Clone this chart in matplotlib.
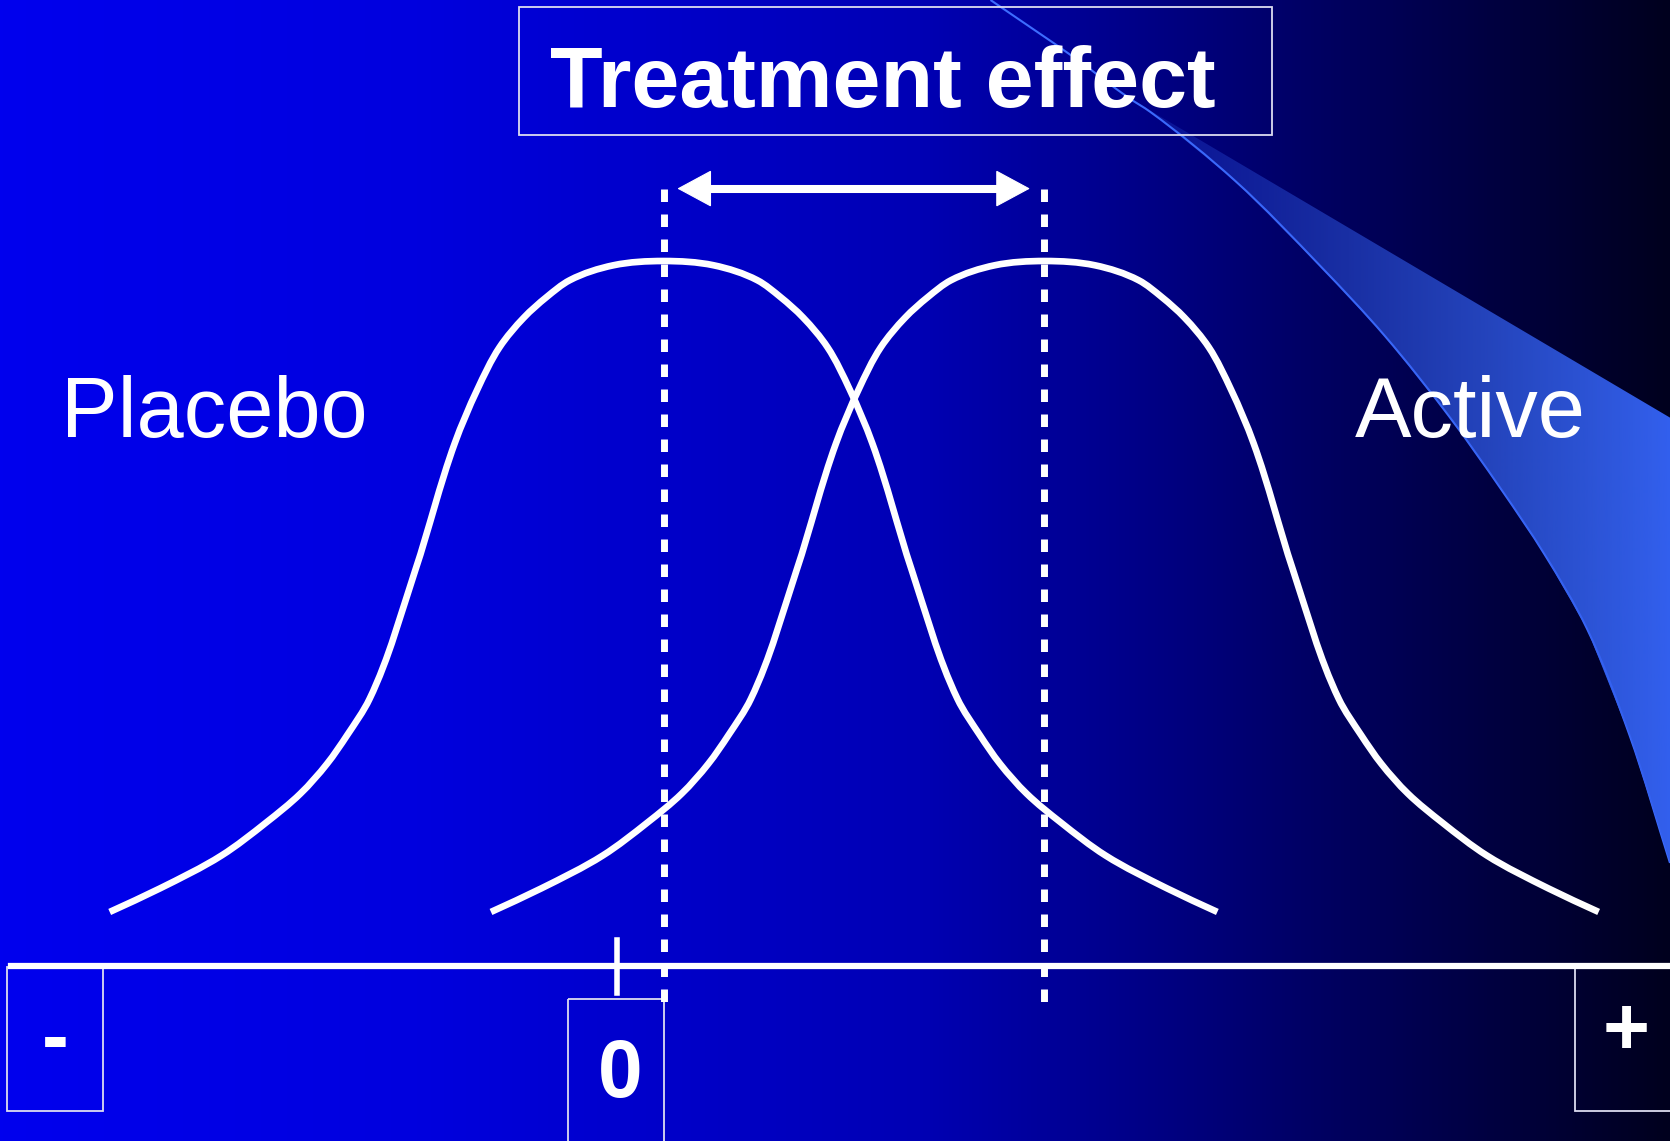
import numpy as np
import matplotlib
matplotlib.use("Agg")
import matplotlib.pyplot as plt
from matplotlib.patches import Rectangle, Polygon, PathPatch
from matplotlib.path import Path

# ─── DATA (slide coordinates, x to the right, y downwards) ────
placebo_x = [103, 150, 208, 250, 282, 307, 326, 347, 390, 427, 448, 469, 492, 513,
             535, 576, 623, 670, 711, 733, 754, 777, 798, 819, 856, 899, 920, 939,
             964, 996, 1038, 1096, 1143]
curve_y = [856, 834, 803, 772, 745, 717, 690, 656, 535, 416, 366, 326, 298, 279,
           263, 249, 245, 249, 263, 279, 298, 326, 366, 416, 535, 656, 690, 717,
           745, 772, 803, 834, 856]
placebo_mean = 623
effect = 358                      # shift of the active curve
active_x = [x + effect for x in placebo_x]
active_mean = 980
zero_pos = 579

axis_y = 907
arrow_y = 177


def smooth_curve(xs, ys, **kw):
    # freeform-style curve through the read points (cubic Bezier segments,
    # tangent = bisector of the two neighbour directions)
    p = np.column_stack([xs, ys]).astype(float)
    n = len(p)
    unit = lambda v: v / np.hypot(*v)
    tang = np.zeros_like(p)
    for i in range(n):
        d = np.zeros(2)
        if i > 0:
            d += unit(p[i] - p[i - 1])
        if i < n - 1:
            d += unit(p[i + 1] - p[i])
        tang[i] = unit(d)
    verts = [p[0]]
    codes = [Path.MOVETO]
    for i in range(n - 1):
        seg = np.hypot(*(p[i + 1] - p[i])) / 3
        verts += [p[i] + tang[i] * seg, p[i + 1] - tang[i + 1] * seg, p[i + 1]]
        codes += [Path.CURVE4] * 3
    return PathPatch(Path(verts, codes), fill=False, **kw)


# ─── FIGURE ───────────────────────────────────────────────────
W, H = 1568, 1071
fig = plt.figure(figsize=(16.70, 11.41), dpi=100)
ax = fig.add_axes([0, 0, 1, 1])
ax.set_xlim(0, W)
ax.set_ylim(H, 0)
ax.axis("off")

# background: bright blue -> near black
stops = [0, 0.25, 0.55, 0.8, 1.0]
blues = [238, 222, 180, 95, 30]
t = np.linspace(0, 1, 512)
bg = np.zeros((1, 512, 3))
bg[0, :, 2] = np.interp(t, stops, blues) / 255
ax.imshow(bg, extent=(0, W, H, 0), aspect="auto", zorder=0)

# light blue swoosh in the top right corner
lower_x = [930, 1010, 1060, 1080, 1160, 1240, 1300, 1360, 1410, 1450, 1490, 1530, 1568]
lower_y = [0, 55, 92, 105, 170, 250, 315, 390, 460, 520, 590, 690, 810]
ax.add_patch(smooth_curve(lower_x, lower_y, ec="#3d6cff", lw=1.5, zorder=1))
poly_pts = [(1060, 92), (1568, 392)] + list(zip(lower_x[::-1], lower_y[::-1]))[:-3]
swoosh = Polygon(poly_pts, closed=True, facecolor="none", edgecolor="none")
ax.add_patch(swoosh)
grad = np.zeros((1, 256, 4))
grad[0, :, 0] = 0.20
grad[0, :, 1] = 0.38
grad[0, :, 2] = 0.94
grad[0, :, 3] = np.linspace(0.15, 1.0, 256)
im = ax.imshow(grad, extent=(1060, W, 820, 0), aspect="auto", zorder=1)
im.set_clip_path(swoosh)

# title box
ax.add_patch(Rectangle((487, 7), 707, 120, fill=False, ec="#dcdcf0", lw=1.3, zorder=3))
ax.text(829, 100, "Treatment effect", color="white", fontsize=62, fontweight="bold",
        family="Liberation Sans", ha="center", va="baseline", zorder=4)

# treatment effect arrow: thick shaft + sharp heads
tip_l, tip_r = placebo_mean + 13, active_mean - 13
ax.plot([tip_l + 10, tip_r - 10], [arrow_y, arrow_y], color="white", lw=5.8,
        solid_capstyle="butt", zorder=4)
ax.annotate("", xy=(tip_l, arrow_y), xytext=(tip_r, arrow_y),
            arrowprops=dict(arrowstyle="<|-|>,head_length=1.15,head_width=0.62",
                            mutation_scale=20, color="white", lw=0.8,
                            shrinkA=0, shrinkB=0, joinstyle="miter"),
            zorder=4)

# mean lines
for m in [placebo_mean, active_mean]:
    ax.plot([m, m], [arrow_y, 942], color="white", lw=5,
            linestyle=(0, (1.8, 1.8)), solid_capstyle="butt", zorder=3)

# distributions
ax.add_patch(smooth_curve(placebo_x, curve_y, ec="white", lw=4.8, zorder=3,
                          capstyle="butt"))
ax.add_patch(smooth_curve(active_x, curve_y, ec="white", lw=4.8, zorder=3,
                          capstyle="butt"))

ax.text(57, 410, "Placebo", color="white", fontsize=61, family="Liberation Sans",
        ha="left", va="baseline", zorder=4)
ax.text(1272, 410, "Active", color="white", fontsize=61, family="Liberation Sans",
        ha="left", va="baseline", zorder=4)

# response axis
ax.plot([10, 1565], [axis_y, axis_y], color="white", lw=4.5, zorder=3)
ax.plot([zero_pos, zero_pos], [882, 932], color="white", lw=4, zorder=3)

box_ec = "#dcdcf0"
ax.add_patch(Rectangle((7, 908), 90, 135, fill=False, ec=box_ec, lw=1.3, zorder=2))
ax.add_patch(Rectangle((533, 938), 90, 140, fill=False, ec=box_ec, lw=1.3, zorder=2))
ax.add_patch(Rectangle((1479, 908), 95, 135, fill=False, ec=box_ec, lw=1.3, zorder=2))

ax.text(52, 978, "-", color="white", fontsize=58, fontweight="bold",
        family="Liberation Sans", ha="center", va="center", zorder=4)
ax.text(582, 1030, "0", color="white", fontsize=58, fontweight="bold",
        family="Liberation Sans", ha="center", va="baseline", zorder=4)
ax.text(1527, 970, "+", color="white", fontsize=58, fontweight="bold",
        family="Liberation Sans", ha="center", va="center", zorder=4)

fig.savefig("out.png", dpi=100)
